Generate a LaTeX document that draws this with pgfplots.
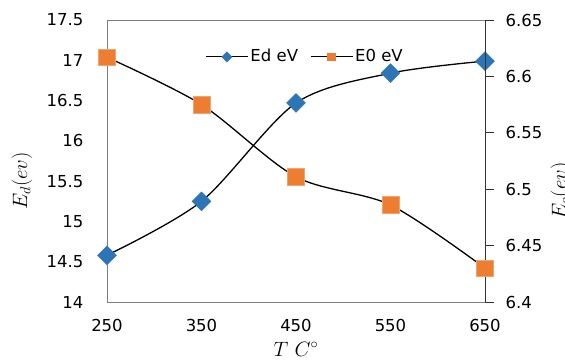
\documentclass[border=0pt]{standalone}
\usepackage{pgfplots}
\pgfplotsset{compat=1.18}
\usepackage{fontspec}
\setmainfont{DejaVu Sans}
\definecolor{exblue}{HTML}{2E75B6}
\definecolor{exorange}{HTML}{ED7D31}
\definecolor{axgray}{HTML}{7F7F7F}
\begin{document}
\fontsize{16.5}{20}\selectfont
\begin{tikzpicture}
\path[use as bounding box] (-107pt,-57pt) rectangle (458pt,302pt);
\begin{axis}[
  at={(0pt,0pt)}, anchor=south west,
  scale only axis, width=378pt, height=282pt,
  xmin=250, xmax=650, ymin=14, ymax=17.5,
  xtick={250,350,450,550,650},
  ytick={14,14.5,15,15.5,16,16.5,17,17.5},
  major tick length=0pt,
  axis line style={axgray, line width=0.9pt},
  /pgf/number format/assume math mode=true,
  /pgf/number format/fixed,
  y tick label style={xshift=-18pt},
  x tick label style={yshift=-12pt},
  xlabel={$T\ C^{\circ}$},
  ylabel={$E_d(ev)$},
  every axis x label/.style={at={(axis description cs:0.5,0)}, yshift=-47pt, anchor=center, font=\fontsize{20}{24}\selectfont},
  every axis y label/.style={at={(axis description cs:0,0.5)}, xshift=-85pt, yshift=-20pt, rotate=90, anchor=center, font=\fontsize{20}{24}\selectfont},
  clip=false,
]
\addplot[black, line width=1.3pt, smooth, mark=square*, mark size=6.7pt,
  mark options={rotate=45, fill=exblue, draw=exblue, line width=0.4pt}]
  coordinates {(250,14.58) (350,15.25) (450,16.47) (550,16.84) (650,16.99)};
\end{axis}
\begin{axis}[
  at={(0pt,0pt)}, anchor=south west,
  scale only axis, width=378pt, height=282pt,
  xmin=250, xmax=650, ymin=6.4, ymax=6.65,
  axis x line=none,
  axis y line*=right,
  ytick={6.4,6.45,6.5,6.55,6.6,6.65},
  ytick pos=right,
  tick align=outside,
  major tick length=9pt,
  axis line style={black!80, line width=0.9pt},
  tick style={black!80, line width=0.9pt},
  /pgf/number format/assume math mode=true,
  /pgf/number format/fixed,
  /pgf/number format/precision=2,
  y tick label style={xshift=6pt},
  ylabel={$E_o(ev)$},
  every axis y label/.style={at={(axis description cs:1,0.5)}, xshift=76pt, yshift=-30pt, rotate=90, anchor=center, font=\fontsize{20}{24}\selectfont},
  clip=false,
  legend style={at={(0.524,0.869)}, anchor=center, draw=none, fill=none,
    /tikz/every even column/.append style={column sep=10pt}},
  legend columns=2,
  legend cell align=left,
  legend image code/.code={\draw[#1, mark repeat=2, mark phase=2] plot coordinates {(0pt,0pt) (21pt,0pt) (42pt,0pt)};},
]
\addlegendimage{black, line width=1.1pt, mark=square*, mark size=3.3pt, mark options={rotate=45, fill=exblue, draw=exblue}}
\addlegendentry{Ed eV}
\addlegendimage{black, line width=1.1pt, mark=square*, mark size=3.6pt, mark options={fill=exorange, draw=exorange}}
\addlegendentry{E0 eV}
\addplot[forget plot, black, line width=1.3pt, smooth, mark=square*, mark size=8.3pt,
  mark options={fill=exorange, draw=exorange!70!white, line width=0.5pt}]
  coordinates {(250,6.617) (350,6.575) (450,6.511) (550,6.486) (650,6.430)};
\end{axis}
\end{tikzpicture}
\end{document}
